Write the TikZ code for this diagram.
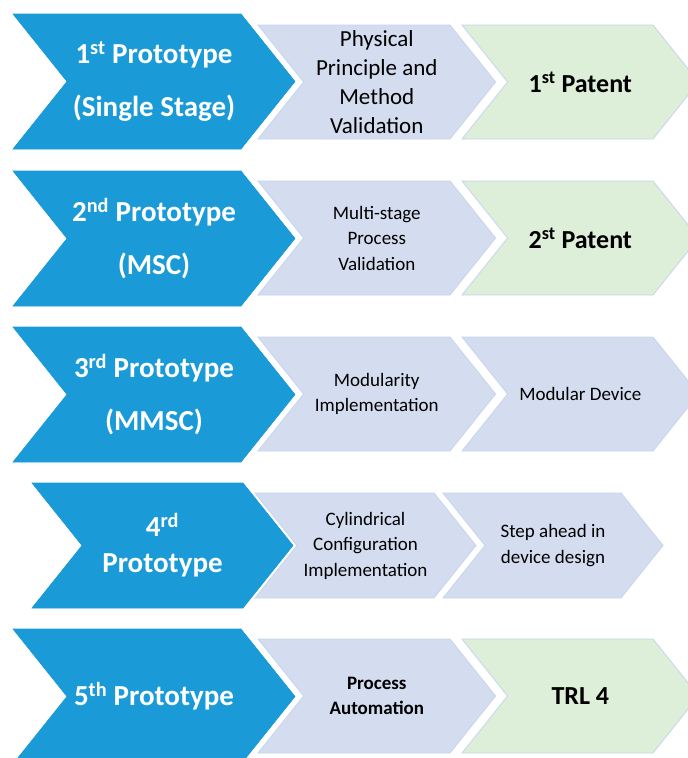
\documentclass[tikz,border=0pt]{standalone}
\usepackage{fontspec}
\setmainfont{Carlito}
\definecolor{protoblue}{RGB}{26,155,215}
\definecolor{steplilac}{RGB}{212,221,239}
\definecolor{patentgreen}{RGB}{221,238,217}
\definecolor{edgeblue}{RGB}{198,213,236}

% chevron: [style]{left x}{top y}{top right x}{height}
\newcommand{\chevron}[5][]{%
  \filldraw[#1] (#2,#3) -- (#4,#3) -- ({#4+0.4*#5},{#3+0.5*#5}) -- (#4,{#3+#5})
    -- (#2,{#3+#5}) -- ({#2+0.4*#5},{#3+0.5*#5}) -- cycle;}

\begin{document}
\begin{tikzpicture}[x=1pt,y=-1pt,
    proto arrow/.style={fill=protoblue,draw=protoblue,line width=0.6pt},
    step arrow/.style={fill=steplilac,draw=edgeblue,line width=0.8pt},
    patent arrow/.style={fill=patentgreen,draw=edgeblue,line width=0.8pt},
    proto node/.style={align=center,inner sep=0pt,text=white,font=\fontsize{29}{53}\selectfont\bfseries},
    step node/.style={align=center,inner sep=0pt,text=black,font=\fontsize{19}{25.5}\selectfont},
    patent node/.style={align=center,inner sep=0pt,text=black,font=\fontsize{26}{31}\selectfont\bfseries}]
    \useasboundingbox (0,0) rectangle (688,758);
    \clip (0,0) rectangle (688,758);

    % 1st row
    \chevron[proto arrow]{13}{14}{241}{135}
    \chevron[step arrow]{258}{25}{450}{114}
    \chevron[patent arrow]{462}{25}{653}{114}
    \node[proto node] (proto1) at (154,81.5) {1\textsuperscript{st} Prototype\\(Single Stage)};
    \node[step node,font=\fontsize{23}{29}\selectfont] (step1) at (376.8,82) {Physical\\Principle and\\Method\\Validation};
    \node[patent node] (patent1) at (580.3,82) {1\textsuperscript{st} Patent};

    % 2nd row
    \chevron[proto arrow]{13}{171}{241}{135}
    \chevron[step arrow]{258}{181}{450}{114}
    \chevron[patent arrow]{462}{181}{653}{114}
    \node[proto node] (proto2) at (154,238.5) {2\textsuperscript{nd} Prototype\\(MSC)};
    \node[step node] (step2) at (376.8,238) {Multi-stage\\Process\\Validation};
    \node[patent node] (patent2) at (580.3,238) {2\textsuperscript{st} Patent};

    % 3rd row
    \chevron[proto arrow]{13}{327}{241}{135}
    \chevron[step arrow]{258}{337}{450}{114}
    \chevron[step arrow]{462}{337}{653}{114}
    \node[proto node] (proto3) at (154,394.5) {3\textsuperscript{rd} Prototype\\(MMSC)};
    \node[step node] (step3) at (376.8,394) {Modularity\\Implementation};
    \node[step node] (device3) at (580.3,394) {Modular Device};

    % 4th row
    \chevron[proto arrow]{32}{483}{243}{125}
    \chevron[step arrow]{255}{493}{434}{105}
    \chevron[step arrow]{443}{493}{621}{105}
    \node[proto node,font=\fontsize{29}{36}\selectfont\bfseries] (proto4) at (162.5,545.5) {4\textsuperscript{rd}\\Prototype};
    \node[step node] (step4) at (365.5,545.5) {Cylindrical\\Configuration\\Implementation};
    \node[step node] (device4) at (553,545.5) {Step ahead in\\device design};

    % 5th row
    \chevron[proto arrow]{13}{629}{241}{135}
    \chevron[step arrow]{258}{639}{450}{114}
    \chevron[patent arrow]{462}{639}{653}{114}
    \node[proto node] (proto5) at (154,696.5) {5\textsuperscript{th} Prototype};
    \node[step node,font=\fontsize{19}{25}\selectfont\bfseries] (step5) at (376.8,696) {Process\\Automation};
    \node[patent node] (patent5) at (580.3,696) {TRL 4};
\end{tikzpicture}
\end{document}
